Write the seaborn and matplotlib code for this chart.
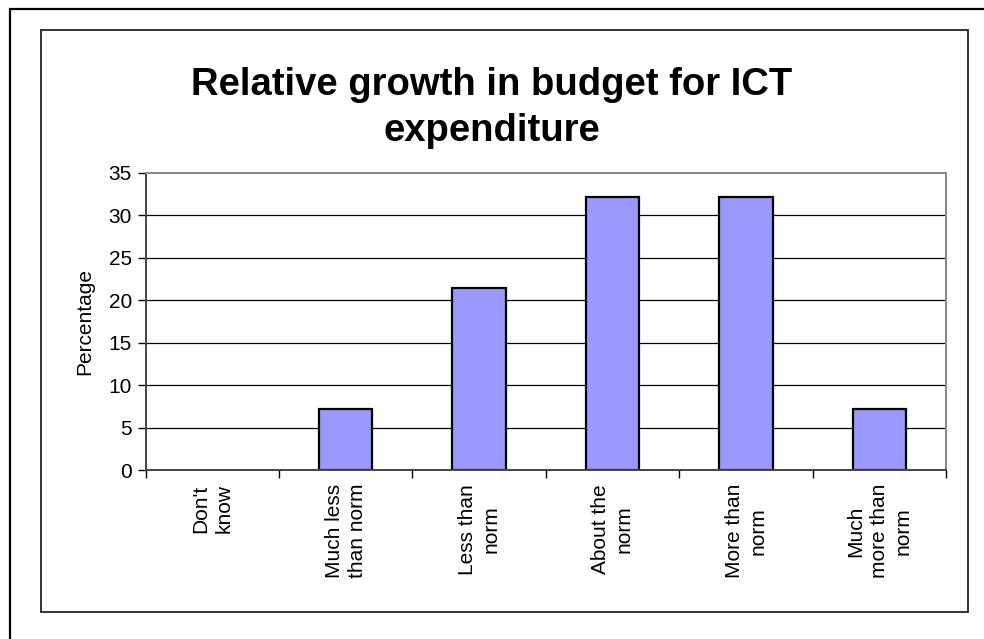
import matplotlib
matplotlib.use("Agg")
import matplotlib.pyplot as plt
from matplotlib.patches import Rectangle
import seaborn as sns
import pandas as pd

# Survey responses: share of respondents per budget-growth category
categories = ["Don't\nknow", "Much less\nthan norm", "Less than\nnorm",
              "About the\nnorm", "More than\nnorm", "Much\nmore than\nnorm"]
percentages = [0.0, 7.14, 21.43, 32.14, 32.14, 7.14]
y_ticks = [0, 5, 10, 15, 20, 25, 30, 35]

sns.set_theme(style="white")
plt.rcParams["font.family"] = ["Liberation Sans", "DejaVu Sans"]

W, H, DPI = 984, 639, 100
fig = plt.figure(figsize=(W / DPI, H / DPI), dpi=DPI)
fig.patch.set_facecolor("white")

def px_rect(x0, y0, x1, y1):
    return [x0 / W, 1 - y1 / H, (x1 - x0) / W, (y1 - y0) / H]

# Outer page frame and chart-area frame
fig.patches.append(Rectangle((9.5 / W, 1 - 700 / H), 1100 / W, (700 - 8.5) / H,
                             transform=fig.transFigure, fill=False,
                             edgecolor="black", linewidth=1.6))
fig.patches.append(Rectangle((41 / W, 1 - 612 / H), (968 - 41) / W, (612 - 29.5) / H,
                             transform=fig.transFigure, fill=False,
                             edgecolor="#333333", linewidth=1.4))

ax = fig.add_axes(px_rect(145.7, 172.7, 946, 470))
df = pd.DataFrame({"category": categories, "pct": percentages})
sns.barplot(data=df, x="category", y="pct", ax=ax, color="#9999FF",
            saturation=1, width=0.40, edgecolor="black", linewidth=1.6)
# Empty categories get no visible bar outline
for patch in ax.patches:
    if patch.get_height() == 0:
        patch.set_linewidth(0)

FS = 15
ax.set_ylim(0, 35)
ax.set_xlim(-0.5, len(categories) - 0.5)
ax.set_yticks(y_ticks)
ax.set_yticklabels([str(v) for v in y_ticks], fontsize=FS, color="black")
for v in y_ticks[1:-1]:
    ax.axhline(v, color="black", linewidth=0.9, zorder=0)

# Category labels, rotated and centred under each bar
ax.set_xticks(range(len(categories)))
ax.set_xticklabels(categories, rotation=90, fontsize=FS, color="black",
                   ha="center", va="top", multialignment="center",
                   linespacing=1.3)
ax.tick_params(axis="x", length=0, pad=10)
# Tick marks on category boundaries
ax.set_xticks([i - 0.5 for i in range(len(categories) + 1)], minor=True)
ax.tick_params(axis="x", which="minor", length=6, width=1, color="black",
               direction="out", bottom=True)
ax.tick_params(axis="y", length=6, width=1, color="black", direction="out",
               left=True, pad=4)

ax.set_xlabel("")
ax.set_ylabel("Percentage", fontsize=FS, color="black", labelpad=10)

for side in ["top", "right"]:
    ax.spines[side].set_visible(True)
    ax.spines[side].set_color("#888888")
    ax.spines[side].set_linewidth(1.4)
for side in ["left", "bottom"]:
    ax.spines[side].set_color("#444444")
    ax.spines[side].set_linewidth(1.4)

fig.text(492 / W, 1 - 108 / H, "Relative growth in budget for ICT\nexpenditure",
         ha="center", va="center", fontsize=27.5, fontweight="bold",
         linespacing=1.38, color="black")

fig.savefig("out.png", dpi=DPI, facecolor="white")
